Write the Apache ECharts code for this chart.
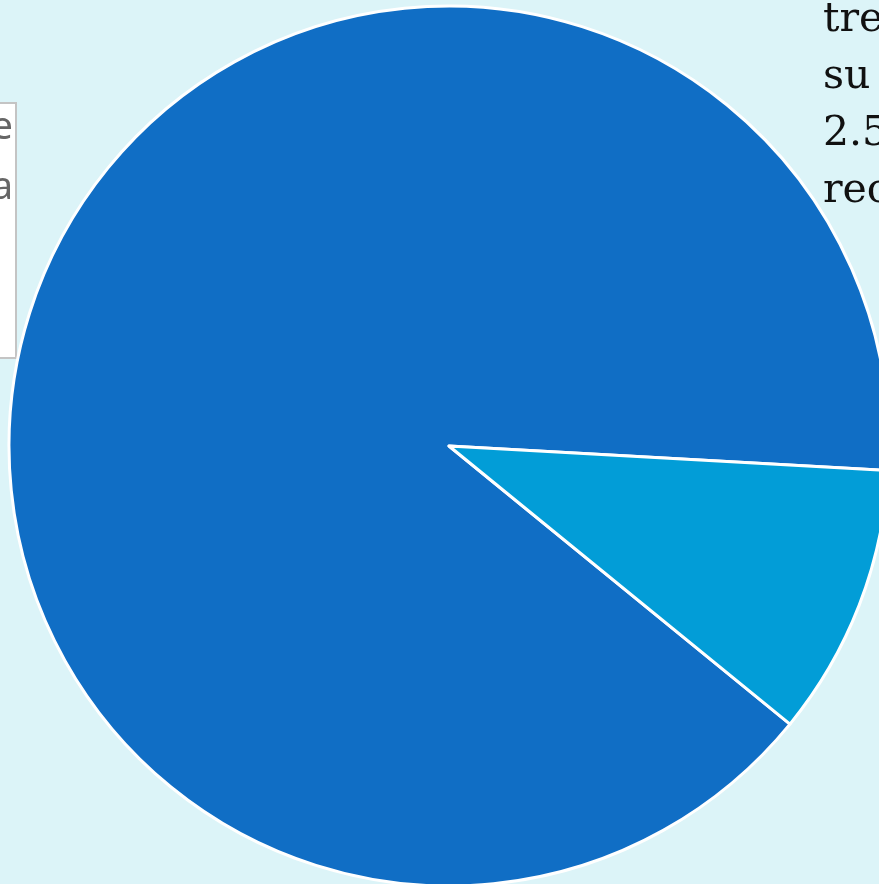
<!DOCTYPE html>
<html>
<head>
<meta charset="utf-8">
<script src="https://cdn.jsdelivr.net/npm/echarts@6/dist/echarts.min.js"></script>
<style>
  html, body { margin: 0; padding: 0; background: #dcf4f8; }
  #chart { width: 879px; height: 884px; }
</style>
</head>
<body>
<div id="chart"></div>
<script>
const sliceNames = ["Major", "Minor"];
const sliceValues = [90, 10];
const sliceColors = ["#106ec5", "#029dd7"];
const noteLines = ["tre", "su", "2.5", "rec"];
const boxLines = ["e", "a"];

const chart = echarts.init(document.getElementById("chart"));

const noteText = noteLines.map((t, i) => ({
  type: "text",
  left: 823,
  top: 0 + i * 57,
  z: 5,
  style: {
    text: t,
    fill: "#111",
    font: "41px 'DejaVu Serif'",
  },
}));

const boxText = boxLines.map((t, i) => ({
  type: "text",
  x: 13,
  y: 109 + i * 60,
  z: 5,
  style: {
    text: t,
    fill: "#666",
    font: "38px 'Noto Sans'",
    align: "right",
  },
}));

chart.setOption({
  backgroundColor: "#dcf4f8",
  animation: false,
  graphic: [
    {
      type: "rect",
      shape: { x: -40, y: 103, width: 56, height: 255 },
      style: { fill: "#fff", stroke: "#c4c4c4", lineWidth: 2 },
      z: 1,
    },
    ...boxText,
    ...noteText,
  ],
  series: [
    {
      type: "pie",
      center: [449, 446],
      radius: 440,
      startAngle: -39.2,
      clockwise: true,
      label: { show: false },
      labelLine: { show: false },
      emphasis: { disabled: true },
      itemStyle: { borderColor: "#fff", borderWidth: 3 },
      z: 2,
      data: sliceNames.map((n, i) => ({
        name: n,
        value: sliceValues[i],
        itemStyle: { color: sliceColors[i] },
      })),
    },
  ],
});
</script>
</body>
</html>
